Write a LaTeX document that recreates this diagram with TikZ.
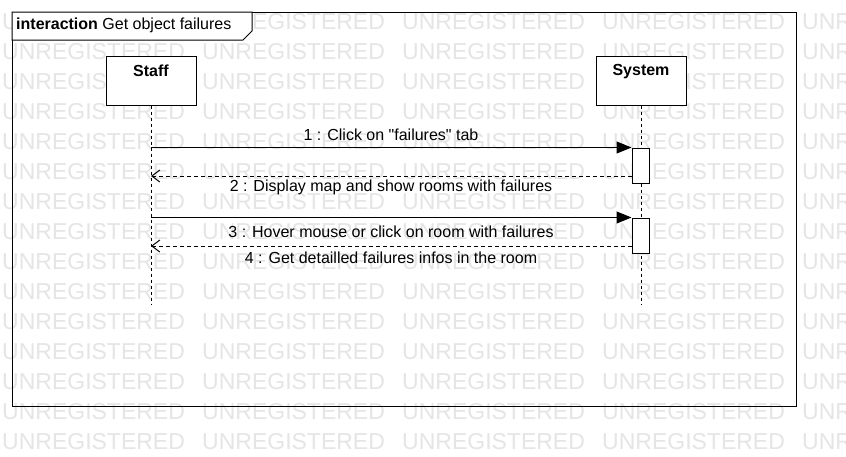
\documentclass[tikz,border=0pt]{standalone}
\usepackage{fontspec}
\setmainfont{Liberation Sans}
\usetikzlibrary{arrows.meta}
\definecolor{wm}{RGB}{229,229,229}
\begin{document}
\begin{tikzpicture}[x=1pt,y=-1pt,
  lbl/.style={font=\fontsize{16}{18}\selectfont, inner sep=0pt},
  wmtext/.style={font=\fontsize{23}{24}\selectfont, text=wm, inner sep=0pt, anchor=west},
  actorbox/.style={draw, fill=white, line width=1pt, minimum width=90pt, minimum height=49pt, inner sep=0pt},
  actbox/.style={draw, fill=white, line width=1pt, minimum width=17pt, minimum height=35pt, inner sep=0pt},
  lifeline/.style={line width=1pt, dash pattern=on 3pt off 3pt},
  callmsg/.style={line width=1pt, -{Triangle[length=15pt,width=12pt]}},
  retmsg/.style={line width=1pt, dash pattern=on 4pt off 3pt, -{Straight Barb[length=8pt,width=12pt]}},
]
\useasboundingbox (0,0) rectangle (846,456);
\fill[white] (0,0) rectangle (846,456);
% watermark
\foreach \r in {0,...,14}{
  \foreach \c in {0,...,4}{
    \node[wmtext] (wm-\r-\c) at (2+200*\c, 21.5+30*\r) {UNREGISTERED};
  }
}
% frame
\draw[line width=1pt] (12,12) rectangle (796,406);
\draw[line width=1pt, fill=white] (12,12) -- (252,12) -- (252,31) -- (243,40) -- (12,40) -- cycle;
\node[lbl, anchor=west] (title) at (16,25) {\textbf{interaction} Get object failures};
% lifelines
\node[actorbox] (staff) at (151,80.5) {};
\node[actorbox] (system) at (641,80.5) {};
\node[lbl, font=\fontsize{16}{18}\selectfont\bfseries] (stafflbl) at (151,71) {Staff};
\node[lbl, font=\fontsize{16}{18}\selectfont\bfseries] (systemlbl) at (641,72) {System};
\coordinate (staffend) at (151,305);
\coordinate (systemend) at (641,305);
\draw[lifeline] (staff.south) -- (staffend);
\draw[lifeline] (system.south) -- (systemend);
% activations
\node[actbox] (act1) at (640.5,165.5) {};
\node[actbox] (act2) at (640.5,235.5) {};
% messages
\draw[callmsg] (staff.south |- act1.north west) -- (act1.north west);
\node[lbl] (m1) at (391,135) {1 : Click on \textquotedbl failures\textquotedbl{} tab};
\coordinate (r1) at (632,176);
\draw[retmsg] (r1) -- (staff.south |- r1);
\node[lbl] (m2) at (391,187) {2 : Display map and show rooms with failures};
\draw[callmsg] (staff.south |- act2.north west) -- (act2.north west);
\node[lbl] (m3) at (391,232) {3 : Hover mouse or click on room with failures};
\coordinate (r2) at (632,246);
\draw[retmsg] (r2) -- (staff.south |- r2);
\node[lbl] (m4) at (391,258) {4 : Get detailled failures infos in the room};
\end{tikzpicture}
\end{document}
